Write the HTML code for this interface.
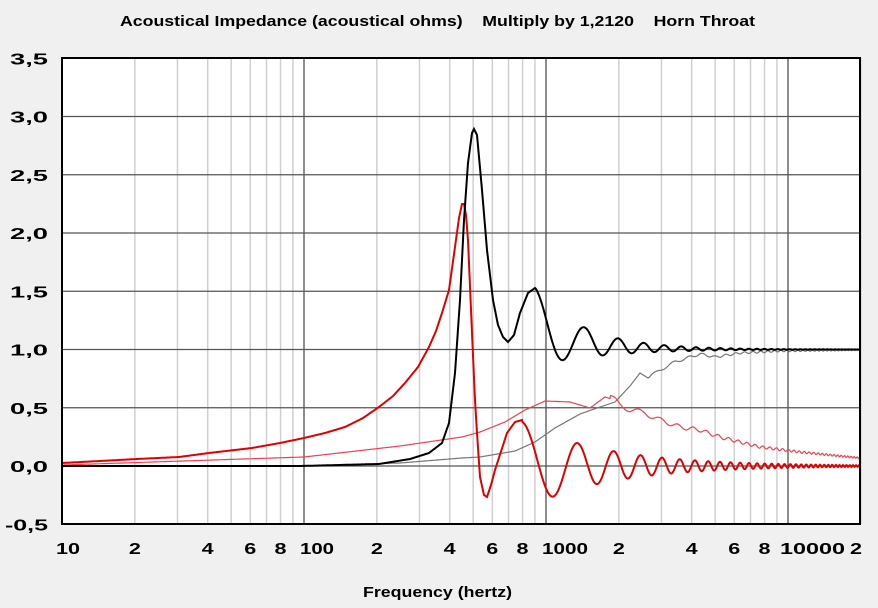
<!DOCTYPE html>
<html><head><meta charset="utf-8"><style>
body{margin:0;background:#f0f0f0;}
svg{display:block;font-family:"Liberation Sans",sans-serif;font-weight:bold;}
</style></head><body>
<svg id="s" width="878" height="608" xmlns="http://www.w3.org/2000/svg">
<rect width="878" height="608" fill="#f0f0f0"/>
<rect x="62" y="58" width="798" height="466" fill="#fff"/>
<g id="grid"></g>
<g id="curves" fill="none"></g>
<rect x="62" y="58" width="798" height="466" fill="none" stroke="#000" stroke-width="2"/>
<text x="120" y="26" font-size="15" textLength="635" lengthAdjust="spacingAndGlyphs" xml:space="preserve" style="white-space:pre">Acoustical Impedance (acoustical ohms)    Multiply by 1,2120    Horn Throat</text>
<g font-size="16" id="yl"></g>
<g font-size="16" id="xl"></g>
<text x="363" y="597" font-size="15" textLength="149" lengthAdjust="spacingAndGlyphs">Frequency (hertz)</text>
</svg>
<script>
const NS="http://www.w3.org/2000/svg";
function el(p,t,a,txt){const e=document.createElementNS(NS,t);for(const k in a)e.setAttribute(k,a[k]);if(txt!=null)e.textContent=txt;document.getElementById(p).appendChild(e);}
const X=f=>62+242*(Math.log10(f)-1), Y=v=>466-116.5*v;
for(let d=10;d<=10000;d*=10)for(let m=1;m<=9;m++){const f=d*m;if(f>20000)break;const x=X(f);
 if(m==1){if(d>10)el("grid","line",{x1:x,x2:x,y1:58,y2:524,stroke:"#444","stroke-width":1.2});}
 else el("grid","line",{x1:x,x2:x,y1:58,y2:524,stroke:"#d0d0d0","stroke-width":1.5});}
for(let v=-0.5;v<=3.51;v+=0.5){const y=Y(v);el("grid","line",{x1:62,x2:860,y1:y,y2:y,stroke:"#555","stroke-width":1.2});
 const t=(v<0?"-":"")+Math.abs(v).toFixed(1).replace(".",",");const w=v<0?43:38;
 el("yl","text",{x:48-w,y:y+6,textLength:w,lengthAdjust:"spacingAndGlyphs"},t);}
const xl=[[10,"10"],[20,"2"],[40,"4"],[60,"6"],[80,"8"],[200,"2"],[400,"4"],[600,"6"],[800,"8"],[2000,"2"],[4000,"4"],[6000,"6"],[8000,"8"],[20000,"2"]];
xl.forEach(([f,t])=>{const w=t.length*12;const cx=f==10?68:(f==20000?856:X(f));el("xl","text",{x:cx-w/2,y:554,textLength:w,lengthAdjust:"spacingAndGlyphs"},t);});
[["100",300,34],["1000",542,46],["10000",780,65]].forEach(([t,x,w])=>el("xl","text",{x:x,y:554,textLength:w,lengthAdjust:"spacingAndGlyphs"},t));
const F=x=>Math.pow(10,1+(x-62)/242);
function interp(pts,x){for(let i=1;i<pts.length;i++)if(x<=pts[i][0]){const a=pts[i-1],b=pts[i];const t=(x-a[0])/(b[0]-a[0]);return a[1]+(b[1]-a[1])*t;}return pts[pts.length-1][1];}
function path(fn,x0,x1){let d="";for(let x=x0;x<=x1;x+=0.5){d+=(d?"L":"M")+x.toFixed(1)+","+fn(x).toFixed(1);}return d;}
const bp=[[62,466],[300,466],[379,464],[410,459],[429,453],[442,443],[449,423],[455,373],[460,300],[464,220],[468,163],[472,133],[474,129],[477,135],[482,190],[487,250],[493,300],[498,325],[503,337],[508,342],[514,335],[520,313],[528,293],[535,288]];
const black=x=>{if(x<=535)return interp(bp,x);const f=F(x);const r=901/f;const m=0.2*Math.pow(r,2.5),A=0.33*Math.pow(r,2);return Y(1+m+A*Math.cos(2*Math.PI*(f-901)/545));};
const rp=[[62,463],[100,461],[137,459],[179,457],[209,453],[252,448],[280,443],[304,438],[325,433],[345,427],[363,418],[379,407],[393,396],[405,383],[418,367],[429,347],[436,331],[442,313],[449,290],[455,247],[459,218],[462,204],[464,204],[466,215],[468,240],[472,333],[475,400],[477,433],[480,477],[484,495],[487,497],[491,485],[495,470],[507,433],[515,422],[522,420]];
const red=x=>{if(x<=522)return interp(rp,x);const f=F(x);const A=0.38*Math.pow(796/f,1.25);return Y(A*Math.cos(2*Math.PI*(f-796)/555));};
const gp=[[62,466],[300,466],[400,463],[462,458],[480,457],[515,451],[535,442],[555,428],[580,414],[600,407],[615,402],[630,386],[640,373],[648,378],[660,370],[675,362],[690,357],[700,354],[715,357],[740,353],[780,351],[860,350]];
const gray=x=>{let y=interp(gp,x);if(x>650){const f=F(x);y+=116.5*0.015*Math.pow(2000/f,0.5)*Math.cos(2*Math.PI*(f-1986)/545);}return y;};
const tp=[[62,465],[304,457],[400,446],[462,437],[480,432],[505,422],[525,410],[545,401],[570,402],[590,408],[605,397],[615,400],[630,410],[645,413],[660,420],[680,427],[700,430],[720,437],[760,447],[800,452],[860,458]];
const thin=x=>{let y=interp(tp,x);if(x>610){const f=F(x);y+=116.5*0.03*Math.pow(1600/f,0.6)*Math.cos(2*Math.PI*(f-1600)/545);}return y;};
el("curves","path",{d:path(gray,62,860),stroke:"#777","stroke-width":1.2});
el("curves","path",{d:path(thin,62,860),stroke:"#f04050","stroke-width":1.2});
el("curves","path",{d:path(red,62,860),stroke:"#e00000","stroke-width":2});
el("curves","path",{d:path(black,62,860),stroke:"#000","stroke-width":2});
</script>
</body></html>
